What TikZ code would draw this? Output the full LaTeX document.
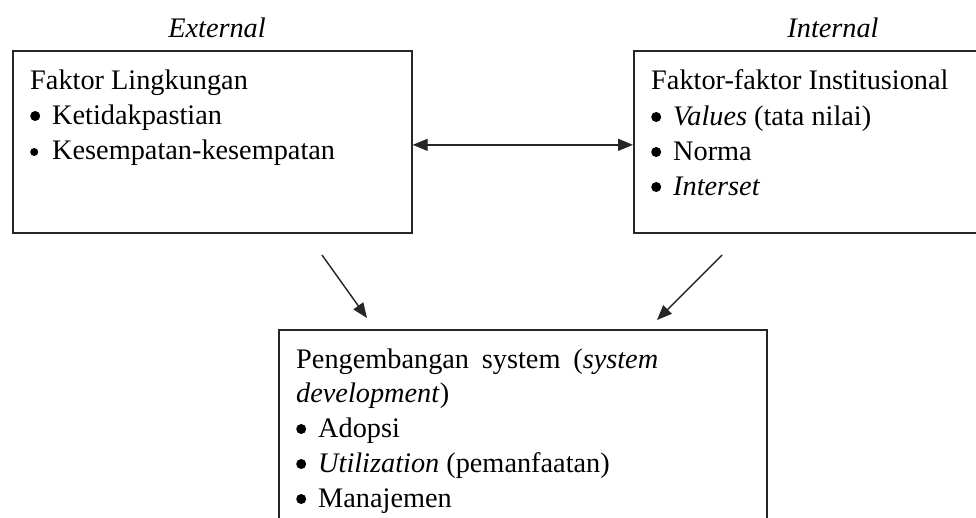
\documentclass[tikz,border=0pt]{standalone}
\usepackage{fontspec}
\setmainfont{Liberation Serif}
\usetikzlibrary{arrows.meta}
\newcommand\bul{\makebox[22pt][l]{\tikz[baseline=0pt]\fill[black] (5pt,8pt) circle (5pt);}}
\newcommand\bulsm{\makebox[22pt][l]{\tikz[baseline=0pt]\fill[black] (5pt,7pt) circle (4pt);}}
\tikzset{
  box/.style={draw=black!85, line width=1.7pt, anchor=north west, inner sep=0, fill=none},
  txt/.style={anchor=base west, inner sep=0, font=\fontsize{28.3}{32}\selectfont},
  lbl/.style={anchor=base, inner sep=0, font=\fontsize{28.3}{32}\selectfont\itshape},
  arr/.style={line width=1.4pt, draw=black!85, -{Triangle[length=15pt,width=12pt]}},
  dbl/.style={line width=1.4pt, draw=black!85, {Triangle[length=15pt,width=12pt]}-{Triangle[length=15pt,width=12pt]}}
}
\begin{document}
\begin{tikzpicture}[x=1pt,y=-1pt]
\useasboundingbox (0,0) rectangle (976,517);
\clip (0,0) rectangle (976,517);
\fill[white] (0,0) rectangle (976,517);
% boxes
\node[box, minimum width=399pt, minimum height=182pt] (L) at (12,50) {};
\node[box, minimum width=360pt, minimum height=182pt] (R) at (633,50) {};
\node[box, minimum width=488pt, minimum height=220pt] (B) at (278,329) {};
% labels
\node[lbl] (ext) at (217,37) {External};
\node[lbl] (int) at (833,37) {Internal};
% left box text
\node[txt] (l1) at (30,89) {Faktor Lingkungan};
\node[txt] (l2) at (30,124) {\bul Ketidakpastian};
\node[txt] (l3) at (30,159) {\bulsm Kesempatan-kesempatan};
% right box text
\node[txt] (r1) at (651,89) {Faktor-faktor Institusional};
\node[txt] (r2) at (651,125) {\bul\textit{Values} (tata nilai)};
\node[txt] (r3) at (651,160) {\bul Norma};
\node[txt] (r4) at (651,195) {\bul\textit{Interset}};
% bottom box text
\node[txt] (b1) at (296,368) {\makebox[362pt][s]{Pengembangan system (\textit{system}}};
\node[txt] (b2) at (296,402) {\textit{development})};
\node[txt] (b3) at (296,437) {\bul Adopsi};
\node[txt] (b4) at (296,472) {\bul\textit{Utilization} (pemanfaatan)};
\node[txt] (b5) at (296,507) {\bul Manajemen};
% connectors
\draw[dbl] ([yshift=-3pt]L.east) -- ([yshift=-3pt]R.west);
\coordinate (a1s) at (322,255);
\coordinate (a1e) at (367,318);
\coordinate (a2s) at (722,255);
\coordinate (a2e) at (657,320);
\draw[arr] (a1s) -- (a1e);
\draw[arr] (a2s) -- (a2e);
\end{tikzpicture}
\end{document}
